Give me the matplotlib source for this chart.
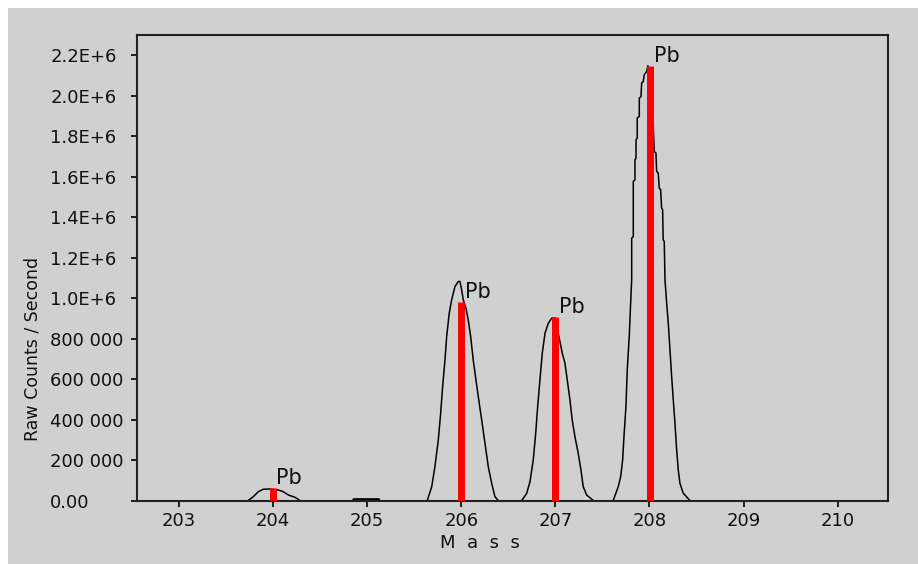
import matplotlib
matplotlib.use("Agg")
import matplotlib.pyplot as plt
from matplotlib.patches import Rectangle

# scan profile, one list pair per peak
mass_204 = [203.736, 203.790, 203.843, 203.896, 203.967, 204.055, 204.108, 204.162, 204.233, 204.286]
counts_204 = [0, 18800, 43500, 55400, 56900, 51900, 43500, 27200, 15800, 0]

mass_205 = [204.85, 204.86, 205.12, 205.13]
counts_205 = [0, 3000, 3000, 0]

mass_206 = [205.639, 205.686, 205.720, 205.756, 205.781, 205.802, 205.827, 205.845, 205.872,
            205.898, 205.933, 205.968, 205.986, 206.004, 206.021, 206.050, 206.074, 206.100,
            206.127, 206.156, 206.191, 206.217, 206.252, 206.287, 206.323, 206.358, 206.393]
counts_206 = [0, 68200, 167100, 299100, 431100, 562600, 694600, 809800, 925500,
              991900, 1057000, 1082000, 1082000, 1041000, 991900, 950000, 892000, 810000,
              694600, 595700, 480600, 398000, 282800, 167100, 85000, 18800, 0]

mass_207 = [206.642, 206.695, 206.730, 206.765, 206.791, 206.812, 206.836, 206.861, 206.890,
            206.925, 206.961, 206.996, 207.049, 207.073, 207.102, 207.131, 207.155, 207.179,
            207.208, 207.243, 207.272, 207.296, 207.333, 207.403]
counts_207 = [0, 35000, 93000, 200000, 332000, 464000, 596000, 728000, 827000,
              876000, 901000, 901000, 785000, 728000, 678000, 580000, 497000, 398000,
              315000, 233000, 151000, 68000, 27000, 0]

mass_208 = [207.615, 207.668, 207.694, 207.715, 207.729, 207.750, 207.764, 207.785, 207.800,
            207.811, 207.811, 207.828, 207.828, 207.846, 207.846, 207.857, 207.857, 207.870,
            207.870, 207.892, 207.892, 207.910, 207.917, 207.934, 207.945, 207.970, 207.983,
            208.040, 208.051, 208.069, 208.076, 208.093, 208.104, 208.119, 208.129, 208.140,
            208.146, 208.157, 208.165, 208.183, 208.200, 208.218, 208.236, 208.253, 208.271,
            208.289, 208.306, 208.324, 208.359, 208.430]
counts_208 = [0, 68000, 118000, 200000, 315000, 464000, 645000, 810000, 975000,
              1090000, 1296000, 1304000, 1576000, 1585000, 1683000, 1692000, 1782000, 1791000,
              1890000, 1898000, 1988000, 1996000, 2063000, 2070000, 2104000, 2120000, 2148000,
              1856000, 1724000, 1717000, 1626000, 1618000, 1544000, 1535000, 1445000, 1436000,
              1288000, 1280000, 1090000, 975000, 876000, 744000, 612000, 497000, 382000,
              250000, 151000, 85000, 36000, 0]

# identified Pb isotope lines
line_mass = [204.0, 206.0, 207.0, 208.01]
line_counts = [60000, 983000, 906000, 2145000]
line_labels = ["Pb", "Pb", "Pb", "Pb"]

y_ticks = [0, 200000, 400000, 600000, 800000, 1000000, 1200000, 1400000,
           1600000, 1800000, 2000000, 2200000]
y_tick_labels = ["0.00", "200 000", "400 000", "600 000", "800 000", "1.0E+6", "1.2E+6",
                 "1.4E+6", "1.6E+6", "1.8E+6", "2.0E+6", "2.2E+6"]
x_ticks = [203, 204, 205, 206, 207, 208, 209, 210]

gray = "#d0d0d0"
plt.rcParams["font.family"] = ["DejaVu Sans"]

fig = plt.figure(figsize=(9.18, 5.64), dpi=100)
fig.patch.set_facecolor("white")
# grey panel with a thin white margin on top and left
fig.patches.append(Rectangle((8 / 918, 0), 1, 556 / 564, transform=fig.transFigure,
                             facecolor=gray, edgecolor="none", zorder=-10))

ax = fig.add_axes([137 / 918, 63.5 / 564, 751 / 918, 465.5 / 564])
ax.set_facecolor(gray)

for mx, cy in [(mass_204, counts_204), (mass_206, counts_206),
               (mass_207, counts_207), (mass_208, counts_208)]:
    ax.plot(mx, cy, color="black", lw=1.1, zorder=2)
ax.plot(mass_205, counts_205, color="black", lw=2.5, solid_capstyle="butt", zorder=2)

ax.vlines(line_mass, 0, line_counts, color="#ff0000", lw=5, zorder=3)
for mx, cy, lab in zip(line_mass, line_counts, line_labels):
    ax.text(mx + 0.035, cy, lab, fontsize=15, ha="left", va="bottom", color="#111111", zorder=4)

ax.set_xlim(202.554, 210.535)
ax.set_ylim(0, 2.3e6)

ax.set_xticks(x_ticks)
ax.set_xticklabels([str(t) for t in x_ticks], fontsize=13, color="#111111")
ax.set_yticks(y_ticks)
ax.set_yticklabels(y_tick_labels, fontsize=13, color="#111111")
ax.tick_params(axis="x", direction="out", length=4, width=1.2, pad=4)
ax.tick_params(axis="y", direction="out", length=4, width=1.2, pad=58.5)
for lab in ax.get_yticklabels():
    lab.set_horizontalalignment("left")
    lab.set_verticalalignment("center_baseline")

for sp in ax.spines.values():
    sp.set_color("#222222")
    sp.set_linewidth(1.5)

fig.text(33 / 918, 1 - 349 / 564, "Raw Counts / Second", rotation=90, fontsize=12.5,
         ha="center", va="center", color="#111111")
fig.text(480 / 918, 1 - 543 / 564, "M  a  s  s", fontsize=13, ha="center", va="center",
         color="#111111")

fig.savefig("out.png", dpi=100, facecolor=fig.get_facecolor())
